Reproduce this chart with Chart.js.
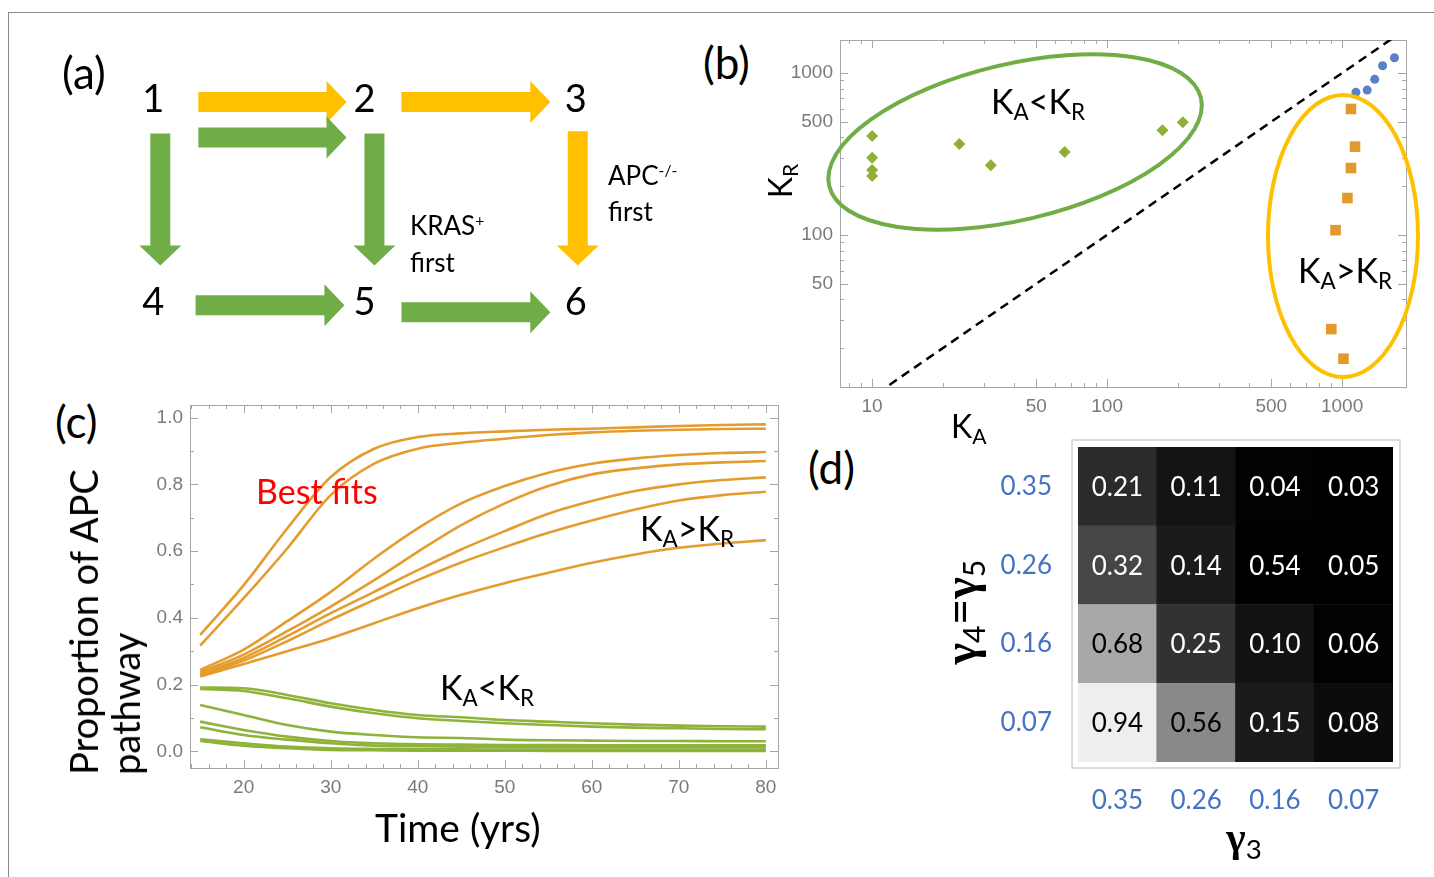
<!DOCTYPE html>
<html>
<head>
<meta charset="utf-8">
<script src="https://cdn.jsdelivr.net/npm/chart.js"></script>
<style>
  body { margin: 0; background: #fff; width: 1434px; height: 877px; overflow: hidden; position: relative; font-family: Lato, "Open Sans", sans-serif; }
  .frame { position: absolute; left: 8px; top: 12px; width: 1440px; height: 900px; border-top: 1px solid #8a8a8a; border-left: 1px solid #8a8a8a; }
  .box { position: absolute; }
  .lbl { position: absolute; white-space: nowrap; color: #000; line-height: 1; }
  .lbl sub { font-size: 0.66em; vertical-align: -0.28em; line-height: 0; }
  .lbl sup { font-size: 0.6em; vertical-align: 0.6em; line-height: 0; }
  .rot { transform: translate(-50%, -50%) rotate(-90deg); }
  .gam { font-family: "Liberation Serif", serif; font-weight: bold; }
</style>
</head>
<body>
<div class="frame"></div>

<div class="box" style="left:90px;top:48px"><canvas id="diagram" width="549" height="305"></canvas></div>
<div class="box" style="left:760px;top:30px"><canvas id="scatter" width="660" height="400"></canvas></div>
<div class="box" style="left:140px;top:395px"><canvas id="curves" width="650" height="415"></canvas></div>
<div class="box" style="left:960px;top:437px"><canvas id="heat" width="450" height="400"></canvas></div>

<!-- panel letters -->
<div class="lbl" style="left:62px;top:50px;font-size:44px">(a)</div>
<div class="lbl" style="left:703px;top:40px;font-size:44px">(b)</div>
<div class="lbl" style="left:55px;top:399px;font-size:44px">(c)</div>
<div class="lbl" style="left:808px;top:445px;font-size:44px">(d)</div>

<!-- panel a texts -->
<div class="lbl" style="left:410px;top:207px;font-size:26px;line-height:37px">KRAS<sup>+</sup><br>first</div>
<div class="lbl" style="left:608px;top:157px;font-size:26px;line-height:36px">APC<sup>-/-</sup><br>first</div>

<!-- panel b texts -->
<div class="lbl rot" style="left:780px;top:181px;font-size:32px">K<sub>R</sub></div>
<div class="lbl" style="left:951px;top:410px;font-size:32px">K<sub>A</sub></div>
<div class="lbl" style="left:991px;top:84px;font-size:34px">K<sub>A</sub>&lt;K<sub>R</sub></div>
<div class="lbl" style="left:1298px;top:253px;font-size:34px">K<sub>A</sub>&gt;K<sub>R</sub></div>

<!-- panel c texts -->
<div class="lbl rot" style="left:104px;top:622px;font-size:38px;line-height:42px;text-align:left">Proportion of APC<br>pathway</div>
<div class="lbl" style="left:375px;top:808px;font-size:39px">Time (yrs)</div>
<div class="lbl" style="left:256px;top:474px;font-size:34px;color:#ff0000">Best fits</div>
<div class="lbl" style="left:640px;top:511px;font-size:34px">K<sub>A</sub>&gt;K<sub>R</sub></div>
<div class="lbl" style="left:440px;top:670px;font-size:34px">K<sub>A</sub>&lt;K<sub>R</sub></div>

<!-- panel d texts -->
<div class="lbl rot" style="left:960px;top:612px;font-size:46px"><span class="gam">γ</span><sub>4</sub>=<span class="gam">γ</span><sub>5</sub></div>
<div class="lbl" style="left:1226px;top:814px;font-size:42px"><span class="gam">γ</span><sub>3</sub></div>

<script>
// ---- panel (a): mutation pathway diagram (grid units: column, row)
const nodeNames = ['1', '2', '3', '4', '5', '6'];
const nodeCol = [0, 1, 2, 0, 1, 2];
const nodeRow = [0, 0, 0, 1, 1, 1];
const arrowFrom = [[0.213, 0.015], [0.213, 0.19], [1.175, 0.015], [2.01, 0.16], [0.033, 0.17], [1.047, 0.17], [0.2, 1.015], [1.175, 1.05]];
const arrowTo   = [[0.915, 0.015], [0.915, 0.19], [1.88, 0.015], [2.01, 0.82], [0.033, 0.82], [1.047, 0.82], [0.905, 1.015], [1.88, 1.05]];
const arrowPath = ['apc', 'kras', 'apc', 'apc', 'kras', 'kras', 'kras', 'kras'];

// ---- panel (b): fitted K_A vs K_R
const kaLess = [10, 10, 10, 10, 23.5, 32, 66, 172, 210];
const krLess = [408, 300, 252, 231, 365, 269, 325, 443, 496];
const kaMore = [1091, 1135, 1091, 1054, 938, 900, 1014];
const krMore = [600, 351, 259, 169, 107, 26.2, 17.2];
const kaNear = [1145, 1279, 1377, 1487, 1671];
const krNear = [760, 785, 914, 1109, 1243];
const kaTicks = [10, 50, 100, 500, 1000];
const krTicks = [50, 100, 500, 1000];

// ---- panel (c): proportion of APC pathway over time
const years = [15, 20, 25, 30, 35, 40, 45, 50, 55, 60, 65, 70, 75, 80];
const apcHigh = [
  [0.349, 0.498, 0.668, 0.822, 0.907, 0.942, 0.953, 0.959, 0.964, 0.967, 0.971, 0.975, 0.978, 0.980],
  [0.317, 0.459, 0.608, 0.768, 0.862, 0.907, 0.925, 0.937, 0.948, 0.956, 0.961, 0.964, 0.966, 0.967],
  [0.244, 0.305, 0.39, 0.478, 0.578, 0.668, 0.743, 0.795, 0.835, 0.862, 0.878, 0.888, 0.894, 0.897],
  [0.238, 0.29, 0.36, 0.434, 0.513, 0.598, 0.678, 0.743, 0.795, 0.83, 0.848, 0.86, 0.866, 0.87],
  [0.232, 0.28, 0.345, 0.414, 0.478, 0.543, 0.605, 0.66, 0.712, 0.75, 0.78, 0.80, 0.813, 0.821],
  [0.228, 0.272, 0.33, 0.394, 0.454, 0.513, 0.566, 0.612, 0.655, 0.692, 0.725, 0.752, 0.768, 0.778],
  [0.224, 0.262, 0.30, 0.339, 0.384, 0.429, 0.469, 0.504, 0.535, 0.565, 0.59, 0.61, 0.623, 0.633]
];
const apcLow = [
  [0.191, 0.189, 0.169, 0.144, 0.124, 0.109, 0.102, 0.094, 0.089, 0.084, 0.08, 0.077, 0.075, 0.074],
  [0.187, 0.181, 0.159, 0.134, 0.114, 0.099, 0.091, 0.084, 0.079, 0.074, 0.071, 0.069, 0.067, 0.066],
  [0.139, 0.109, 0.079, 0.059, 0.049, 0.042, 0.04, 0.035, 0.033, 0.032, 0.031, 0.031, 0.030, 0.030],
  [0.089, 0.064, 0.044, 0.031, 0.024, 0.021, 0.02, 0.019, 0.019, 0.018, 0.018, 0.018, 0.018, 0.018],
  [0.072, 0.049, 0.035, 0.024, 0.017, 0.015, 0.014, 0.013, 0.013, 0.012, 0.012, 0.012, 0.012, 0.012],
  [0.036, 0.024, 0.014, 0.009, 0.007, 0.006, 0.006, 0.005, 0.005, 0.005, 0.005, 0.005, 0.005, 0.005],
  [0.031, 0.017, 0.009, 0.004, 0.003, 0.002, 0.002, 0.002, 0.001, 0.001, 0.001, 0.001, 0.001, 0.001]
];
const yearTicks = [20, 30, 40, 50, 60, 70, 80];
const propTicks = [0, 0.2, 0.4, 0.6, 0.8, 1.0];

// ---- panel (d): grid of gamma values (rows top to bottom = gamma4=gamma5)
const gamma45 = ['0.35', '0.26', '0.16', '0.07'];
const gamma3 = ['0.35', '0.26', '0.16', '0.07'];
const cellValues = [
  [0.21, 0.11, 0.04, 0.03],
  [0.32, 0.14, 0.54, 0.05],
  [0.68, 0.25, 0.10, 0.06],
  [0.94, 0.56, 0.15, 0.08]
];
const cellShade = [
  [43, 20, 2, 0],
  [70, 27, 0, 0],
  [168, 50, 18, 2],
  [238, 137, 26, 12]
];

Chart.defaults.animation = false;
Chart.defaults.font.family = '"Liberation Sans", Arial, sans-serif';

const ORANGE = '#e59c2e';
const GREEN = '#8db33a';

function logMinor(lo, hi) {
  const out = [];
  for (let d = 1; d <= 1000; d *= 10) {
    for (let m = 1; m <= 9; m++) {
      const v = m * d;
      if (v >= lo && v <= hi) out.push(v);
    }
  }
  return out;
}

// keep the plot area where the layout padding says, not where label overhang pushes it
const noOverhangX = s => { s.paddingLeft = 0; s.paddingRight = 0; };
const noOverhangY = s => { s.paddingTop = 0; s.paddingBottom = 0; };

// frame with inward ticks on all four sides, like the original plots
const frameTicks = {
  id: 'frameTicks',
  beforeDatasetsDraw(chart, args, opts) {
    const { ctx, chartArea: a, scales } = chart;
    ctx.save();
    ctx.strokeStyle = '#a6a6a6';
    ctx.lineWidth = 1;
    ctx.strokeRect(a.left + 0.5, a.top + 0.5, a.right - a.left, a.bottom - a.top);
    const draw = (axis, list, len) => {
      list.forEach(v => {
        const p = Math.round(scales[axis].getPixelForValue(v)) + 0.5;
        ctx.beginPath();
        if (axis === 'x') {
          if (p < a.left || p > a.right) return;
          ctx.moveTo(p, a.bottom); ctx.lineTo(p, a.bottom - len);
          ctx.moveTo(p, a.top); ctx.lineTo(p, a.top + len);
        } else {
          if (p < a.top || p > a.bottom) return;
          ctx.moveTo(a.left, p); ctx.lineTo(a.left + len, p);
          ctx.moveTo(a.right, p); ctx.lineTo(a.right - len, p);
        }
        ctx.stroke();
      });
    };
    draw('x', opts.xMajor, 8);
    draw('x', opts.xMinor, 4);
    draw('y', opts.yMajor, 8);
    draw('y', opts.yMinor, 4);
    ctx.restore();
  }
};

// ---- (a)
const arrowColors = { apc: '#ffc000', kras: '#70ad47' };
const arrowPlugin = {
  id: 'arrows',
  afterDatasetsDraw(chart) {
    const { ctx, scales: { x, y } } = chart;
    ctx.save();
    arrowFrom.forEach((f, i) => {
      const x1 = x.getPixelForValue(f[0]), y1 = y.getPixelForValue(f[1]);
      const x2 = x.getPixelForValue(arrowTo[i][0]), y2 = y.getPixelForValue(arrowTo[i][1]);
      const len = Math.hypot(x2 - x1, y2 - y1);
      const shaft = 20, head = 42, headLen = 20;
      ctx.save();
      ctx.translate(x1, y1);
      ctx.rotate(Math.atan2(y2 - y1, x2 - x1));
      ctx.beginPath();
      ctx.moveTo(0, -shaft / 2);
      ctx.lineTo(len - headLen, -shaft / 2);
      ctx.lineTo(len - headLen, -head / 2);
      ctx.lineTo(len, 0);
      ctx.lineTo(len - headLen, head / 2);
      ctx.lineTo(len - headLen, shaft / 2);
      ctx.lineTo(0, shaft / 2);
      ctx.closePath();
      ctx.fillStyle = arrowColors[arrowPath[i]];
      ctx.fill();
      ctx.restore();
    });
    ctx.fillStyle = '#000';
    ctx.font = '38px Lato, sans-serif';
    ctx.textAlign = 'center';
    ctx.textBaseline = 'middle';
    nodeNames.forEach((n, i) => {
      ctx.fillText(n, x.getPixelForValue(nodeCol[i]), y.getPixelForValue(nodeRow[i]) + 1);
    });
    ctx.restore();
  }
};

new Chart(document.getElementById('diagram'), {
  type: 'scatter',
  data: { datasets: [{ data: nodeNames.map((n, i) => ({ x: nodeCol[i], y: nodeRow[i] })), pointRadius: 0 }] },
  options: {
    responsive: false,
    devicePixelRatio: 1,
    layout: { padding: 0 },
    plugins: { legend: { display: false }, tooltip: { enabled: false } },
    scales: {
      x: { display: false, min: -0.3, max: 2.3 },
      y: { display: false, min: -0.25, max: 1.25, reverse: true }
    }
  },
  plugins: [arrowPlugin]
});

// ---- (b)
const ellipsePlugin = {
  id: 'ellipses',
  afterDatasetsDraw(chart, args, opts) {
    const { ctx, scales: { x, y } } = chart;
    ctx.save();
    ctx.lineWidth = 4;
    opts.items.forEach(e => {
      ctx.beginPath();
      ctx.ellipse(x.getPixelForValue(e.cx), y.getPixelForValue(e.cy), e.rx, e.ry, e.rot * Math.PI / 180, 0, 2 * Math.PI);
      ctx.strokeStyle = e.color;
      ctx.stroke();
    });
    ctx.restore();
  }
};

const tickFont = { size: 19 };
const noGrid = { display: false, drawTicks: false, tickLength: 0 };

new Chart(document.getElementById('scatter'), {
  type: 'scatter',
  data: {
    datasets: [
      {
        type: 'line', data: [{ x: 7.3, y: 7.3 }, { x: 1871, y: 1871 }],
        borderColor: '#000', borderWidth: 2.5, borderDash: [9, 6], pointRadius: 0
      },
      {
        data: kaLess.map((v, i) => ({ x: v, y: krLess[i] })),
        pointStyle: 'rectRot', pointRadius: 6, backgroundColor: '#8fb034', borderWidth: 0
      },
      {
        data: kaMore.map((v, i) => ({ x: v, y: krMore[i] })),
        pointStyle: 'rect', pointRadius: 7.5, backgroundColor: '#e39a2c', borderWidth: 0
      },
      {
        data: kaNear.map((v, i) => ({ x: v, y: krNear[i] })),
        pointStyle: 'circle', pointRadius: 4.5, backgroundColor: '#5b80c3', borderWidth: 0
      }
    ]
  },
  options: {
    responsive: false,
    devicePixelRatio: 1,
    layout: { padding: { top: 10, right: 14, left: 0, bottom: 0 } },
    plugins: {
      legend: { display: false }, tooltip: { enabled: false },
      frameTicks: {
        xMajor: kaTicks, xMinor: logMinor(7, 1900),
        yMajor: krTicks, yMinor: logMinor(11, 1600)
      },
      ellipses: {
        items: [
          { cx: 40.6, cy: 375, rx: 191, ry: 78, rot: -13.3, color: '#70ad47' },
          { cx: 1009, cy: 98.6, rx: 75, ry: 141, rot: 0, color: '#ffc000' }
        ]
      }
    },
    scales: {
      x: {
        type: 'logarithmic', min: 7.3, max: 1871,
        afterBuildTicks: s => { s.ticks = kaTicks.map(v => ({ value: v })); },
        afterFit: s => { s.height = 43; noOverhangX(s); },
        ticks: { callback: v => String(v), color: '#7a7a7a', font: tickFont, padding: 8, maxRotation: 0, autoSkip: false },
        grid: noGrid, border: { display: false }
      },
      y: {
        type: 'logarithmic', min: 11.5, max: 1600,
        afterBuildTicks: s => { s.ticks = krTicks.map(v => ({ value: v })); },
        afterFit: s => { s.width = 80; noOverhangY(s); },
        ticks: { callback: v => String(v), color: '#7a7a7a', font: tickFont, padding: 7, autoSkip: false },
        grid: noGrid, border: { display: false }
      }
    }
  },
  plugins: [frameTicks, ellipsePlugin]
});

// ---- (c)
const lineSets = [];
apcHigh.forEach(s => lineSets.push({ data: s, borderColor: ORANGE }));
apcLow.forEach(s => lineSets.push({ data: s, borderColor: GREEN }));

const yearMinor = [];
for (let t = 14; t <= 80; t += 2) yearMinor.push(t);

new Chart(document.getElementById('curves'), {
  type: 'line',
  data: {
    labels: years,
    datasets: lineSets.map(d => ({
      data: years.map((t, i) => ({ x: t, y: d.data[i] })),
      borderColor: d.borderColor, borderWidth: 2.6, pointRadius: 0,
      cubicInterpolationMode: 'monotone', fill: false
    }))
  },
  options: {
    responsive: false,
    devicePixelRatio: 1,
    layout: { padding: { top: 10, right: 12, left: 0, bottom: 0 } },
    plugins: {
      legend: { display: false }, tooltip: { enabled: false },
      frameTicks: {
        xMajor: yearTicks, xMinor: yearMinor,
        yMajor: propTicks, yMinor: [0.1, 0.3, 0.5, 0.7, 0.9]
      }
    },
    scales: {
      x: {
        type: 'linear', min: 13.83, max: 81.4,
        afterBuildTicks: s => { s.ticks = yearTicks.map(v => ({ value: v })); },
        afterFit: s => { s.height = 42; noOverhangX(s); },
        ticks: { color: '#7a7a7a', font: tickFont, padding: 8, maxRotation: 0, autoSkip: false },
        grid: noGrid, border: { display: false }
      },
      y: {
        type: 'linear', min: -0.05, max: 1.038,
        afterBuildTicks: s => { s.ticks = propTicks.map(v => ({ value: v })); },
        afterFit: s => { s.width = 50; noOverhangY(s); },
        ticks: { callback: v => v.toFixed(1), color: '#7a7a7a', font: tickFont, padding: 7, autoSkip: false },
        grid: noGrid, border: { display: false }
      }
    }
  },
  plugins: [frameTicks]
});

// ---- (d)
const rowsBottomUp = gamma45.slice().reverse();
const cellText = {
  id: 'cellText',
  beforeDatasetsDraw(chart) {
    const { ctx, chartArea: a } = chart;
    ctx.save();
    ctx.strokeStyle = '#cfcfcf';
    ctx.lineWidth = 1.5;
    ctx.strokeRect(a.left - 6, a.top - 7, a.right - a.left + 13, a.bottom - a.top + 13);
    ctx.restore();
  },
  afterDatasetsDraw(chart) {
    const { ctx } = chart;
    ctx.save();
    ctx.font = '26px Lato, sans-serif';
    ctx.textAlign = 'center';
    ctx.textBaseline = 'middle';
    chart.data.datasets.forEach((ds, di) => {
      const r = gamma45.length - 1 - di;
      chart.getDatasetMeta(di).data.forEach((bar, c) => {
        ctx.fillStyle = cellShade[r][c] > 128 ? '#000' : '#fff';
        ctx.fillText(cellValues[r][c].toFixed(2), bar.x, (bar.y + bar.base) / 2 + 1);
      });
    });
    ctx.restore();
  }
};

const gammaFont = { family: 'Lato, sans-serif', size: 26 };
new Chart(document.getElementById('heat'), {
  type: 'bar',
  data: {
    labels: gamma3,
    datasets: rowsBottomUp.map((g, di) => {
      const r = gamma45.length - 1 - di;
      return {
        label: g,
        data: gamma3.map(() => 1),
        backgroundColor: cellShade[r].map(s => `rgb(${s},${s},${s})`),
        borderWidth: 0,
        barPercentage: 1,
        categoryPercentage: 1
      };
    })
  },
  options: {
    responsive: false,
    devicePixelRatio: 1,
    layout: { padding: { top: 10, right: 17, left: 0, bottom: 0 } },
    plugins: { legend: { display: false }, tooltip: { enabled: false } },
    scales: {
      x: {
        stacked: true,
        afterFit: s => { s.height = 75; noOverhangX(s); },
        ticks: { color: '#4472c4', font: gammaFont, padding: 23, maxRotation: 0 },
        grid: noGrid, border: { display: false }
      },
      y: {
        stacked: true, min: 0, max: 4,
        afterBuildTicks: s => { s.ticks = rowsBottomUp.map((g, i) => ({ value: i + 0.5 })); },
        afterFit: s => { s.width = 118; noOverhangY(s); },
        ticks: { callback: (v, i) => rowsBottomUp[i], color: '#4472c4', font: gammaFont, padding: 26, autoSkip: false },
        grid: noGrid, border: { display: false }
      }
    }
  },
  plugins: [cellText]
});
</script>
</body>
</html>
